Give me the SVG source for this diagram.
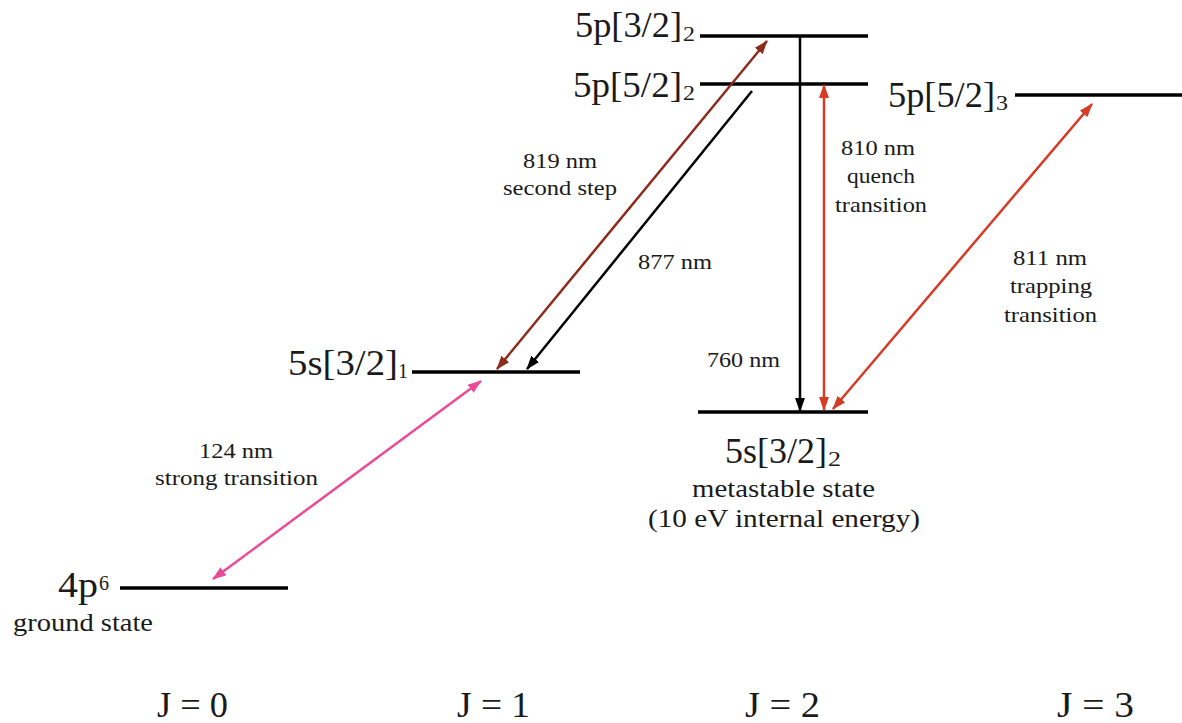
<svg xmlns="http://www.w3.org/2000/svg" width="1182" height="723" viewBox="0 0 1182 723">
<style>
.lvl{stroke:#000;stroke-width:3.5;fill:none}
.t{font-family:'Liberation Serif',Tinos,'Times New Roman','Nimbus Roman',serif;fill:#1a1a1a}
.big{font-size:35px}
.sub{font-size:20px}
.sm{font-size:21px}
.md{font-size:25px}
.j{font-size:36px}
.ar{fill:none;stroke-width:2.5}
</style>
<defs>
<marker id="mBlack" viewBox="0 0 14 10" refX="13" refY="5" markerWidth="14" markerHeight="10" markerUnits="userSpaceOnUse" orient="auto-start-reverse"><path d="M0,0 L14,5 L0,10 z" fill="#000"/></marker>
<marker id="mDark" viewBox="0 0 14 10" refX="13" refY="5" markerWidth="14" markerHeight="10" markerUnits="userSpaceOnUse" orient="auto-start-reverse"><path d="M0,0 L14,5 L0,10 z" fill="#8e2a1b"/></marker>
<marker id="mRed" viewBox="0 0 14 10" refX="13" refY="5" markerWidth="14" markerHeight="10" markerUnits="userSpaceOnUse" orient="auto-start-reverse"><path d="M0,0 L14,5 L0,10 z" fill="#d63b25"/></marker>
<marker id="mPink" viewBox="0 0 14 10" refX="13" refY="5" markerWidth="14" markerHeight="10" markerUnits="userSpaceOnUse" orient="auto-start-reverse"><path d="M0,0 L14,5 L0,10 z" fill="#ea4a98"/></marker>
</defs>
<rect width="1182" height="723" fill="#fff"/>

<g id="level-5p32-2">
<line class="lvl" x1="700" y1="36" x2="868" y2="36"/>
<text class="t big" x="575" y="37" textLength="107" lengthAdjust="spacingAndGlyphs">5p[3/2]</text>
<text class="t sub" x="683" y="41" textLength="12" lengthAdjust="spacingAndGlyphs">2</text>
</g>
<g id="level-5p52-2">
<line class="lvl" x1="700" y1="84" x2="868" y2="84"/>
<text class="t big" x="573" y="97" textLength="109" lengthAdjust="spacingAndGlyphs">5p[5/2]</text>
<text class="t sub" x="683" y="100" textLength="12" lengthAdjust="spacingAndGlyphs">2</text>
</g>
<g id="level-5p52-3">
<line class="lvl" x1="1015" y1="95" x2="1182" y2="95"/>
<text class="t big" x="888" y="107" textLength="107" lengthAdjust="spacingAndGlyphs">5p[5/2]</text>
<text class="t sub" x="996" y="110" textLength="12" lengthAdjust="spacingAndGlyphs">3</text>
</g>
<g id="level-5s32-1">
<line class="lvl" x1="412" y1="372" x2="580" y2="372"/>
<text class="t big" x="288" y="375" textLength="110" lengthAdjust="spacingAndGlyphs">5s[3/2]</text>
<text class="t sub" x="398" y="378">1</text>
</g>
<g id="level-5s32-2">
<line class="lvl" x1="698" y1="412" x2="868" y2="412"/>
<text class="t big" x="725" y="463" textLength="102" lengthAdjust="spacingAndGlyphs">5s[3/2]</text>
<text class="t sub" x="828" y="466" textLength="13" lengthAdjust="spacingAndGlyphs">2</text>
<text class="t md" x="692" y="497" textLength="183" lengthAdjust="spacingAndGlyphs">metastable state</text>
<text class="t md" x="648" y="527" textLength="272" lengthAdjust="spacingAndGlyphs">(10 eV internal energy)</text>
</g>
<g id="level-4p6">
<line class="lvl" x1="120" y1="588" x2="288" y2="588"/>
<text class="t big" x="58" y="597" textLength="40" lengthAdjust="spacingAndGlyphs">4p</text>
<text class="t sub" x="99" y="590">6</text>
<text class="t md" x="13" y="631" textLength="140" lengthAdjust="spacingAndGlyphs">ground state</text>
</g>

<g id="connectors">
<line class="ar" stroke="#8e2a1b" x1="497" y1="369" x2="767" y2="41" marker-start="url(#mDark)" marker-end="url(#mDark)"/>
<line class="ar" stroke="#000" x1="752" y1="91" x2="527" y2="369" marker-end="url(#mBlack)"/>
<line class="ar" stroke="#000" x1="800" y1="36" x2="800" y2="411" marker-end="url(#mBlack)"/>
<line class="ar" stroke="#d63b25" x1="824" y1="85" x2="824" y2="410" marker-start="url(#mRed)" marker-end="url(#mRed)"/>
<line class="ar" stroke="#d63b25" x1="833" y1="409" x2="1092" y2="104" marker-start="url(#mRed)" marker-end="url(#mRed)"/>
<line class="ar" stroke="#ea4a98" x1="213" y1="579" x2="481" y2="381" marker-start="url(#mPink)" marker-end="url(#mPink)"/>
</g>

<g id="labels">
<text class="t sm" x="523" y="168" textLength="74" lengthAdjust="spacingAndGlyphs">819 nm</text>
<text class="t sm" x="503" y="195" textLength="114" lengthAdjust="spacingAndGlyphs">second step</text>
<text class="t sm" x="638" y="269" textLength="74" lengthAdjust="spacingAndGlyphs">877 nm</text>
<text class="t sm" x="707" y="367" textLength="73" lengthAdjust="spacingAndGlyphs">760 nm</text>
<text class="t sm" x="841" y="155" textLength="74" lengthAdjust="spacingAndGlyphs">810 nm</text>
<text class="t sm" x="847" y="183" textLength="68" lengthAdjust="spacingAndGlyphs">quench</text>
<text class="t sm" x="835" y="212" textLength="92" lengthAdjust="spacingAndGlyphs">transition</text>
<text class="t sm" x="1013" y="265" textLength="74" lengthAdjust="spacingAndGlyphs">811 nm</text>
<text class="t sm" x="1010" y="293" textLength="82" lengthAdjust="spacingAndGlyphs">trapping</text>
<text class="t sm" x="1004" y="322" textLength="93" lengthAdjust="spacingAndGlyphs">transition</text>
<text class="t sm" x="199" y="458" textLength="74" lengthAdjust="spacingAndGlyphs">124 nm</text>
<text class="t sm" x="155" y="485" textLength="163" lengthAdjust="spacingAndGlyphs">strong transition</text>
</g>

<g id="j-axis">
<text class="t j" x="157" y="717" textLength="71" lengthAdjust="spacingAndGlyphs">J = 0</text>
<text class="t j" x="457" y="717" textLength="73" lengthAdjust="spacingAndGlyphs">J = 1</text>
<text class="t j" x="745" y="717" textLength="75" lengthAdjust="spacingAndGlyphs">J = 2</text>
<text class="t j" x="1057" y="717" textLength="77" lengthAdjust="spacingAndGlyphs">J = 3</text>
</g>
</svg>
